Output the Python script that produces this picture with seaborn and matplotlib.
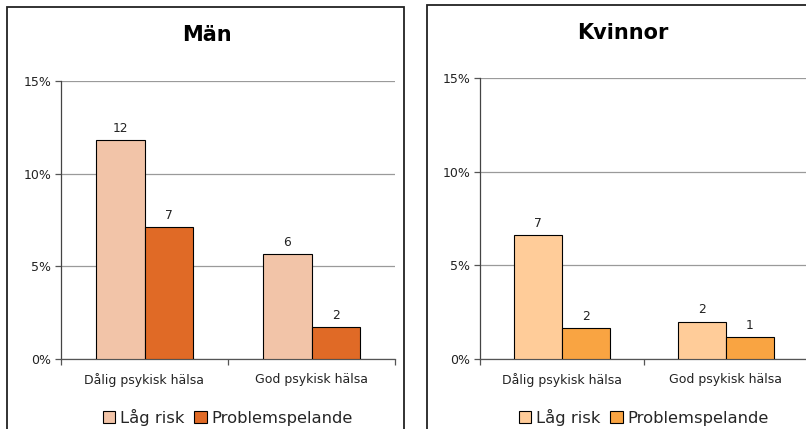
import numpy as np
import pandas as pd
import matplotlib
matplotlib.use("Agg")
import matplotlib.pyplot as plt
from matplotlib.patches import Rectangle
from matplotlib.ticker import FixedLocator, PercentFormatter
import seaborn as sns

# data
kategorier = ["Dålig psykisk hälsa", "God psykisk hälsa"]
grupper = ["Låg risk", "Problemspelande"]

man_andel_lag = [11.8, 5.65]        # % of men
man_andel_problem = [7.1, 1.7]
man_antal_lag = [12, 6]             # labels on top of bars (n)
man_antal_problem = [7, 2]

kv_andel_lag = [6.6, 2.0]
kv_andel_problem = [1.65, 1.15]
kv_antal_lag = [7, 2]
kv_antal_problem = [2, 1]

man_farger = ["#F2C4A8", "#E06A26"]
kv_farger = ["#FFCC99", "#F9A442"]

W, H = 806, 429


def long_df(lag, problem):
    return pd.DataFrame({
        "kategori": kategorier * 2,
        "grupp": [grupper[0]] * 2 + [grupper[1]] * 2,
        "andel": list(lag) + list(problem),
    })


def draw_panel(ax, df, farger, antal_lag, antal_problem, leg_y):
    sns.barplot(data=df, x="kategori", y="andel", hue="grupp", hue_order=grupper,
                order=kategorier, palette=farger, width=0.58, edgecolor="black",
                linewidth=0.8, saturation=1, ax=ax, zorder=3)
    for cont, lab in zip(ax.containers, [antal_lag, antal_problem]):
        ax.bar_label(cont, labels=[str(v) for v in lab], padding=4, fontsize=8.8,
                     color="#222222")
    ax.set_ylim(0, 15)
    ax.set_xlim(-0.5, 1.5)
    ax.set_yticks([0, 5, 10, 15])
    ax.yaxis.set_major_formatter(PercentFormatter(decimals=0))
    ax.grid(axis="y", color="#9a9a9a", linewidth=0.9, zorder=0)
    ax.grid(axis="x", visible=False)
    ax.set_xlabel("")
    ax.set_ylabel("")
    for s in ["top", "right"]:
        ax.spines[s].set_visible(False)
    ax.spines["left"].set_color("#444444")
    ax.spines["bottom"].set_color("#555555")
    for s in ["left", "bottom"]:
        ax.spines[s].set_linewidth(0.9)
    ax.tick_params(axis="y", length=4, width=0.9, color="#555555", labelsize=9,
                   pad=3, labelcolor="#222222", left=True)
    ax.tick_params(axis="x", length=0, labelsize=9, pad=10, labelcolor="#222222")
    ax.xaxis.set_minor_locator(FixedLocator([-0.5, 0.5, 1.5]))
    ax.tick_params(axis="x", which="minor", length=4, width=0.9, color="#555555",
                   bottom=True)
    ax.set_facecolor("white")
    ax.legend(loc="center", bbox_to_anchor=(0.5, leg_y), ncol=2, frameon=False,
              fontsize=11.8, handlelength=0.75, handleheight=0.75, handletextpad=0.3,
              columnspacing=0.6, borderaxespad=0)


sns.set_theme(style="white")
plt.rcParams["font.family"] = ["DejaVu Sans"]

fig = plt.figure(figsize=(W / 100, H / 100), dpi=100)
fig.patch.set_facecolor("white")

# panel frames (right one runs past the image edge like the reference)
fig.patches.append(Rectangle((7 / W, -0.1), (404 - 7) / W, 1.1 - 7 / H,
                             transform=fig.transFigure, fill=False,
                             edgecolor="#222222", linewidth=1.3))
fig.patches.append(Rectangle((427 / W, -0.1), (822 - 427) / W, 1.1 - 5 / H,
                             transform=fig.transFigure, fill=False,
                             edgecolor="#222222", linewidth=1.3))

ax1 = fig.add_axes([61 / W, 1 - 359 / H, (395 - 61) / W, (359 - 81) / H])
ax2 = fig.add_axes([480 / W, 1 - 359 / H, (808 - 480) / W, (359 - 78) / H])

draw_panel(ax1, long_df(man_andel_lag, man_andel_problem), man_farger,
           man_antal_lag, man_antal_problem, (359 - 417) / (359 - 81))
draw_panel(ax2, long_df(kv_andel_lag, kv_andel_problem), kv_farger,
           kv_antal_lag, kv_antal_problem, (359 - 417) / (359 - 78))

fig.text(207 / W, 1 - 35 / H, "Män", ha="center", va="center",
         fontsize=15, fontweight="bold", color="black")
fig.text(623 / W, 1 - 33 / H, "Kvinnor", ha="center", va="center",
         fontsize=15, fontweight="bold", color="black")

fig.savefig("out.png", dpi=100)
